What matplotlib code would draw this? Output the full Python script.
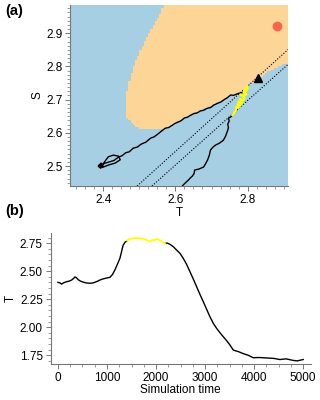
import numpy as np
import matplotlib
matplotlib.use("Agg")
import matplotlib.pyplot as plt
from matplotlib.path import Path
from matplotlib.colors import ListedColormap
from matplotlib.ticker import AutoMinorLocator

plt.rcParams['font.family'] = ['Liberation Sans', 'DejaVu Sans']
plt.rcParams['font.size'] = 8.5

# ---- Panel (a): basin boundary of orange region (T, S) ----
region_T = [2.567, 2.563, 2.549, 2.526, 2.503, 2.484, 2.470, 2.463, 2.466, 2.480,
            2.489, 2.512, 2.568, 2.586, 2.628, 2.669, 2.716, 2.762, 2.790, 2.810,
            2.845, 2.873, 2.906, 2.95, 2.95]
region_S = [2.99, 2.969, 2.939, 2.899, 2.849, 2.799, 2.749, 2.698, 2.648, 2.628,
            2.618, 2.610, 2.610, 2.618, 2.648, 2.668, 2.689, 2.714, 2.731, 2.749,
            2.774, 2.794, 2.809, 2.81, 2.99]

# trajectory (black, before yellow)
traj1_T = [2.392, 2.386, 2.394, 2.398, 2.390, 2.396, 2.403, 2.414, 2.428, 2.442,
           2.447, 2.433, 2.414, 2.400, 2.389, 2.397, 2.430, 2.442, 2.452, 2.462,
           2.472, 2.483, 2.494, 2.505, 2.518, 2.531, 2.541, 2.552, 2.562, 2.572,
           2.581, 2.590, 2.598, 2.606, 2.615, 2.625, 2.633, 2.642, 2.651, 2.660,
           2.669, 2.678, 2.688, 2.697, 2.707, 2.717, 2.726, 2.735, 2.744, 2.753,
           2.761, 2.768, 2.775, 2.781, 2.789]
traj1_S = [2.494, 2.500, 2.509, 2.498, 2.503, 2.495, 2.512, 2.528, 2.533, 2.530,
           2.519, 2.509, 2.503, 2.497, 2.503, 2.506, 2.517, 2.527, 2.531, 2.540,
           2.543, 2.554, 2.557, 2.566, 2.572, 2.584, 2.588, 2.597, 2.606, 2.614,
           2.616, 2.622, 2.628, 2.632, 2.636, 2.645, 2.647, 2.653, 2.658, 2.660,
           2.666, 2.668, 2.674, 2.676, 2.684, 2.689, 2.693, 2.700, 2.706, 2.714,
           2.713, 2.716, 2.719, 2.720, 2.723]
# yellow segment
traj2_T = [2.789, 2.793, 2.799, 2.801, 2.796, 2.790, 2.797, 2.786, 2.780, 2.792,
           2.788, 2.779, 2.786, 2.774, 2.781, 2.772, 2.776, 2.769, 2.767, 2.762,
           2.758]
traj2_S = [2.723, 2.734, 2.741, 2.735, 2.726, 2.720, 2.716, 2.710, 2.716, 2.705,
           2.698, 2.702, 2.690, 2.694, 2.683, 2.686, 2.676, 2.679, 2.667, 2.660,
           2.653]
# black after yellow
traj3_T = [2.758, 2.756, 2.747, 2.749, 2.745, 2.747, 2.744, 2.739, 2.733, 2.722,
           2.711, 2.703, 2.697, 2.694, 2.689, 2.684, 2.678, 2.665, 2.653, 2.652,
           2.647, 2.641, 2.636, 2.627, 2.619, 2.614]
traj3_S = [2.653, 2.650, 2.644, 2.636, 2.626, 2.615, 2.605, 2.590, 2.578, 2.569,
           2.563, 2.556, 2.548, 2.533, 2.518, 2.508, 2.497, 2.491, 2.488, 2.478,
           2.470, 2.464, 2.458, 2.449, 2.440, 2.428]

# dotted lines (T, S endpoints)
line1_T = [2.494, 2.95]
line1_S = [2.440, 2.888]
line2_T = [2.535, 2.95]
line2_S = [2.440, 2.843]

triangle_T, triangle_S = 2.829, 2.764
dot_T, dot_S = 2.881, 2.922

# ---- Panel (b): time series ----
time = [0, 40, 75, 120, 177, 230, 279, 320, 347, 380, 414, 460, 516, 580, 652,
        700, 754, 800, 856, 920, 992, 1060, 1110, 1162, 1210, 1264, 1300, 1331,
        1370, 1413]
T_series = [2.401, 2.397, 2.386, 2.398, 2.407, 2.412, 2.422, 2.436, 2.450, 2.441,
            2.425, 2.412, 2.403, 2.396, 2.393, 2.395, 2.402, 2.410, 2.422, 2.432,
            2.440, 2.446, 2.470, 2.512, 2.560, 2.616, 2.680, 2.735, 2.760, 2.773]
time_y = [1413, 1460, 1535, 1600, 1671, 1740, 1807, 1840, 1875, 1910, 1943, 1980,
          2011, 2050, 2079, 2130, 2181]
T_y = [2.773, 2.790, 2.795, 2.797, 2.795, 2.790, 2.780, 2.772, 2.767, 2.776, 2.782,
       2.778, 2.788, 2.784, 2.776, 2.762, 2.750]
time2 = [2181, 2230, 2283, 2351, 2419, 2487, 2555, 2623, 2691, 2759, 2827, 2895,
         2963, 3031, 3098, 3166, 3234, 3302, 3370, 3438, 3506, 3574, 3620, 3676,
         3777, 3879, 3981, 4100, 4253, 4400, 4524, 4650, 4796, 4880, 5000]
T2 = [2.750, 2.752, 2.741, 2.720, 2.690, 2.661, 2.616, 2.562, 2.497, 2.431, 2.363,
      2.294, 2.229, 2.161, 2.095, 2.036, 1.991, 1.952, 1.916, 1.881, 1.842, 1.797,
      1.790, 1.783, 1.765, 1.750, 1.728, 1.730, 1.726, 1.722, 1.712, 1.718, 1.704,
      1.700, 1.712]

blue = '#A6CFE3'
orange = '#FDD597'
grey = '#777777'

fig = plt.figure(figsize=(3.2, 4.0), dpi=100)
ax1 = fig.add_axes([0.219, 0.535, 0.681, 0.4525])
ax2 = fig.add_axes([0.158, 0.09, 0.814, 0.3275])

# raster of region
xlim = (2.308, 2.912)
ylim = (2.44, 2.985)
gx = np.linspace(xlim[0], xlim[1], 100)
gy = np.linspace(ylim[0], ylim[1], 95)
GX, GY = np.meshgrid(gx, gy)
path = Path(np.column_stack([region_T, region_S]))
inside = path.contains_points(np.column_stack([GX.ravel(), GY.ravel()])).reshape(GX.shape)
ax1.pcolormesh(gx, gy, inside.astype(float), cmap=ListedColormap([blue, orange]),
               shading='nearest', vmin=0, vmax=1, rasterized=True)

ax1.plot(line1_T, line1_S, color='black', ls=(0, (1, 1.5)), lw=0.8)
ax1.plot(line2_T, line2_S, color='black', ls=(0, (1, 1.5)), lw=0.8)
ax1.plot(traj1_T, traj1_S, color='black', lw=1.0)
ax1.plot(traj3_T, traj3_S, color='black', lw=1.0)
ax1.plot(traj2_T, traj2_S, color='#FFFF00', lw=1.5)
ax1.plot([triangle_T], [triangle_S], marker='^', color='black', ms=6, ls='none')
ax1.plot([dot_T], [dot_S], marker='o', color='#F8644F', ms=6, ls='none')

ax1.set_xlim(xlim)
ax1.set_ylim(ylim)
ax1.set_xticks([2.4, 2.6, 2.8])
ax1.set_yticks([2.5, 2.6, 2.7, 2.8, 2.9])
ax1.yaxis.set_minor_locator(AutoMinorLocator(8))
ax1.xaxis.set_minor_locator(AutoMinorLocator(8))
ax1.set_xlabel('T', labelpad=1)
ax1.set_ylabel('S', labelpad=2)

ax2.plot(time, T_series, color='black', lw=1.0)
ax2.plot(time2, T2, color='black', lw=1.0)
ax2.plot(time_y, T_y, color='#FFFF00', lw=1.3)
ax2.set_xlim(-150, 5160)
ax2.set_ylim(1.672, 2.842)
ax2.set_xticks([0, 1000, 2000, 3000, 4000, 5000])
ax2.set_yticks([1.75, 2.0, 2.25, 2.5, 2.75])
ax2.set_yticklabels(['1.75', '2.00', '2.25', '2.50', '2.75'])
ax2.xaxis.set_minor_locator(AutoMinorLocator(4))
ax2.yaxis.set_minor_locator(AutoMinorLocator(5))
ax2.set_xlabel('Simulation time', labelpad=0)
ax2.set_ylabel('T', labelpad=2)

for ax in (ax1, ax2):
    for s in ('top', 'right'):
        ax.spines[s].set_visible(False)
    for s in ('left', 'bottom'):
        ax.spines[s].set_color(grey)
        ax.spines[s].set_linewidth(0.8)
    ax.tick_params(which='major', length=3.5, width=0.7, color=grey, pad=2)
    ax.tick_params(which='minor', length=2, width=0.5, color=grey)

fig.text(0.015, 0.962, '(a)', fontsize=10.5, fontweight='bold')
fig.text(0.015, 0.462, '(b)', fontsize=10.5, fontweight='bold')

fig.savefig('out.png', dpi=100)
